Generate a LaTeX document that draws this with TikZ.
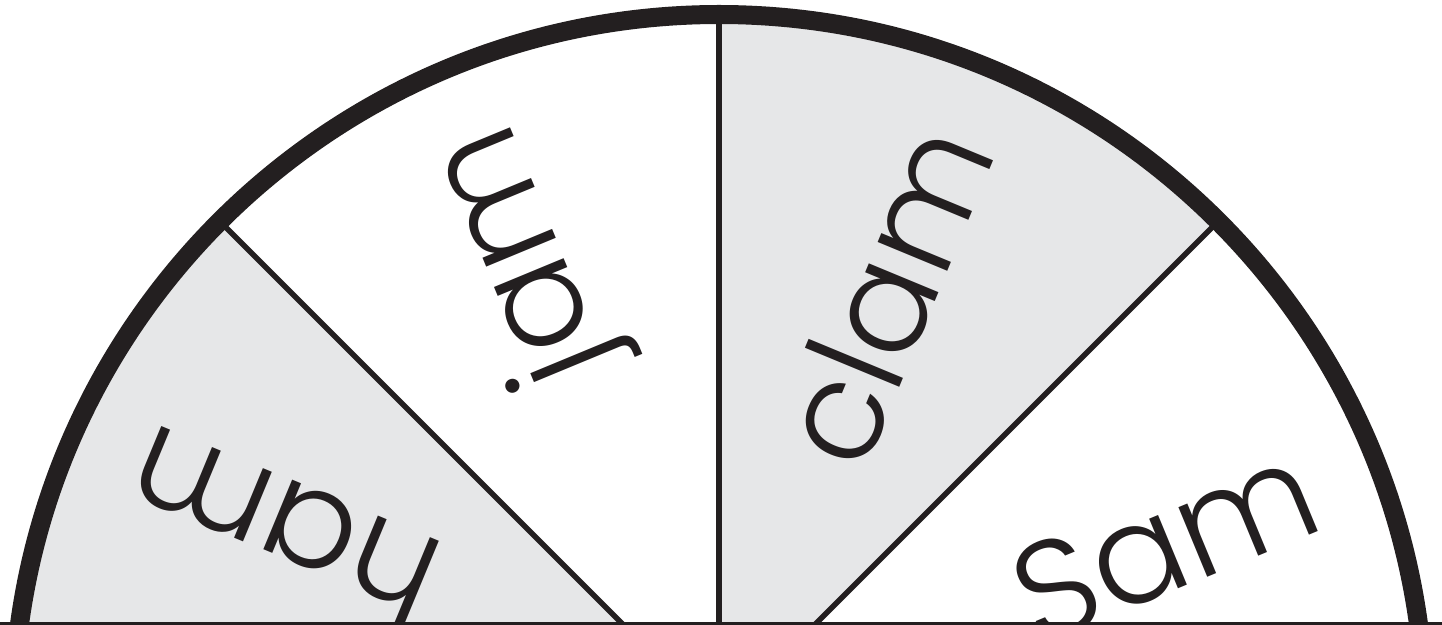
\documentclass[tikz,border=0pt]{standalone}
\usepackage{fontspec}
\setmainfont{Poppins Light}
\definecolor{sectorgray}{RGB}{230,231,232}
\definecolor{inkblack}{RGB}{35,31,32}
\begin{document}
\begin{tikzpicture}[x=1pt,y=1pt,
  divider/.style={draw=inkblack,line width=5.5pt},
  rim/.style={draw=inkblack,line width=19pt},
  baseline rule/.style={draw=inkblack,line width=5pt},
  word/.style={font=\fontsize{138}{140}\selectfont,text=inkblack,inner sep=0pt,
    text height=76pt,text depth=0pt,anchor=center}]
\useasboundingbox (0,0) rectangle (1442,624);
\clip (0,0) rectangle (1442,624);
\coordinate (C) at (719,-96.5);
\path (C) ++(0:706) coordinate (P0);
\path (C) ++(45:706) coordinate (P45);
\path (C) ++(90:706) coordinate (P90);
\path (C) ++(135:706) coordinate (P135);
\path (C) ++(180:706) coordinate (P180);
\coordinate (BL) at (0,0);
\coordinate (BR) at (1442,0);
\fill[white] (BL) rectangle (1442,624);
\fill[sectorgray] (C) -- (P135) arc[start angle=135,end angle=180,radius=706] -- cycle;
\fill[sectorgray] (C) -- (P45) arc[start angle=45,end angle=90,radius=706] -- cycle;
\draw[divider] (C) -- (P45);
\draw[divider] (C) -- (P90);
\draw[divider] (C) -- (P135);
\draw[rim] (C) circle[radius=706];
\draw[baseline rule] (BL) -- (BR);
\node[word,rotate=157.5] (ham) at (286,105) {ham};
\node[word,rotate=112.5] (jam) at (522,368) {jam};
\node[word,rotate=67.5] (clam) at (895,325) {clam};
\node[word,rotate=22.5] (sam) at (1169,72) {Sam};
\end{tikzpicture}
\end{document}
